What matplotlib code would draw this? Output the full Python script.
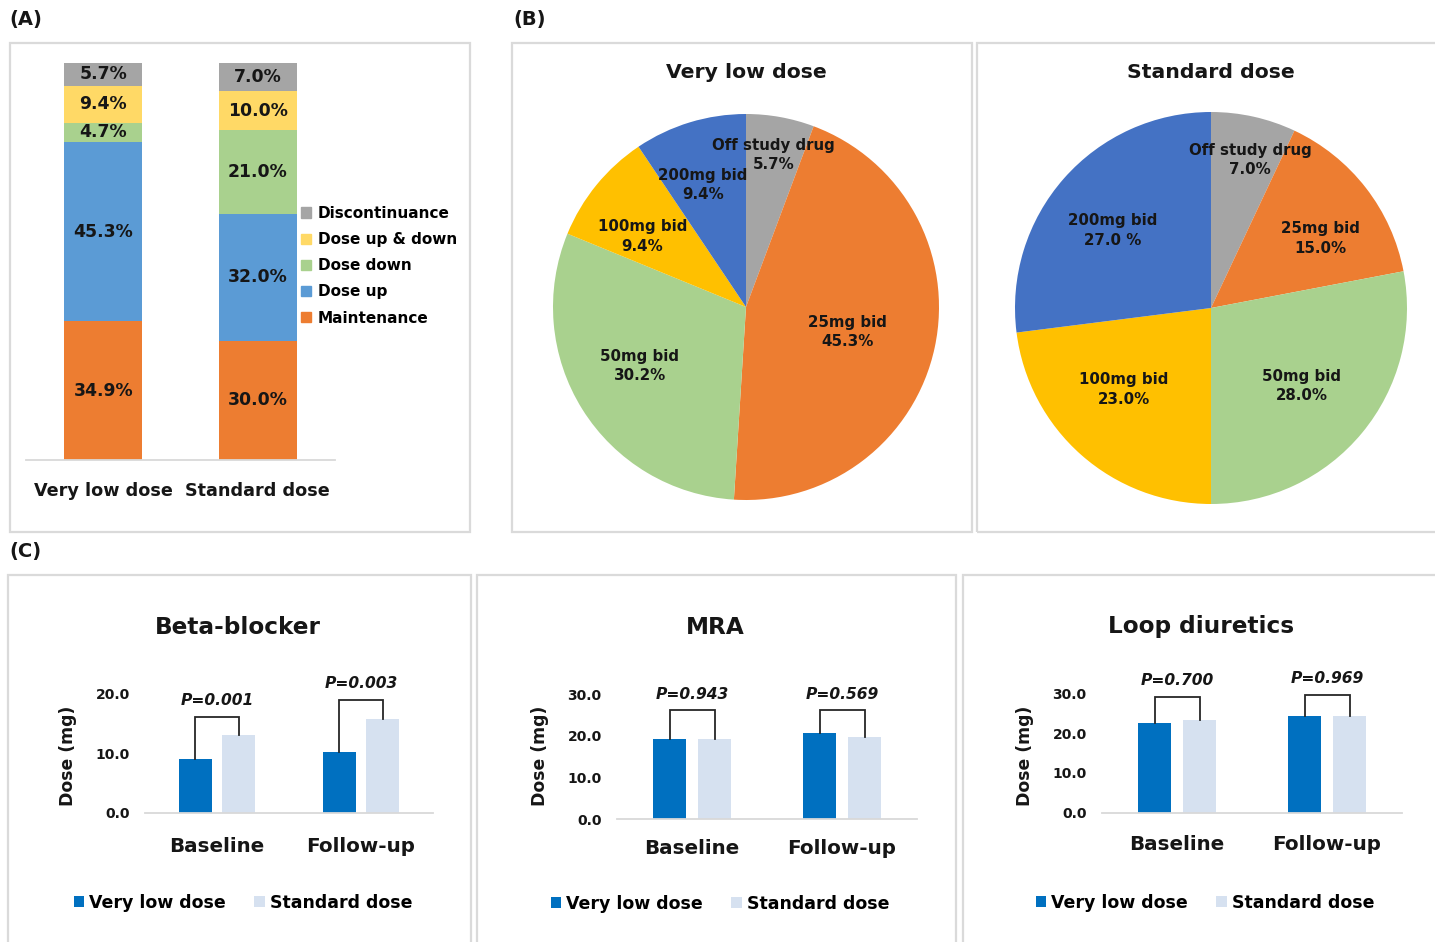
import matplotlib
matplotlib.use("Agg")
import matplotlib.pyplot as plt
from matplotlib.patches import Rectangle, Patch
import numpy as np

# ---------------- data ----------------
groups = ["Very low dose", "Standard dose"]

outcome_labels = ["Maintenance", "Dose up", "Dose down", "Dose up & down", "Discontinuance"]
outcome_vld = [34.9, 45.3, 4.7, 9.4, 5.7]
outcome_std = [30.0, 32.0, 21.0, 10.0, 7.0]

dose_labels = ["Off study drug", "25mg bid", "50mg bid", "100mg bid", "200mg bid"]
dose_vld = [5.7, 45.3, 30.2, 9.4, 9.4]
dose_std = [7.0, 15.0, 28.0, 23.0, 27.0]
dose_vld_text = ["5.7%", "45.3%", "30.2%", "9.4%", "9.4%"]
dose_std_text = ["7.0%", "15.0%", "28.0%", "23.0%", "27.0 %"]

timepoints = ["Baseline", "Follow-up"]
drugs = ["Beta-blocker", "MRA", "Loop diuretics"]
beta_vld = [9.1, 10.2]
beta_std = [13.1, 15.7]
beta_p = ["0.001", "0.003"]
mra_vld = [19.3, 20.8]
mra_std = [19.3, 19.8]
mra_p = ["0.943", "0.569"]
loop_vld = [22.4, 24.3]
loop_std = [23.4, 24.3]
loop_p = ["0.700", "0.969"]

# ---------------- style ----------------
outcome_colors = ["#ED7D31", "#5B9BD5", "#A9D18E", "#FFD966", "#A5A5A5"]
pie_colors = ["#A5A5A5", "#ED7D31", "#A9D18E", "#FFC000", "#4472C4"]
c_vld = "#0070C0"
c_std = "#D6E1F0"
txt = "#161616"
grid_gray = "#D9D9D9"

plt.rcParams["font.family"] = ["DejaVu Sans"]
plt.rcParams["font.weight"] = "bold"

W, H = 1435, 942
fig = plt.figure(figsize=(W / 100, H / 100), dpi=100)
fig.patch.set_facecolor("white")


def rect(x0, y0, x1, y1):
    return [x0 / W, 1 - y1 / H, (x1 - x0) / W, (y1 - y0) / H]


def ftext(x, y, s, **kw):
    kw.setdefault("ha", "center")
    kw.setdefault("va", "center")
    kw.setdefault("color", txt)
    kw.setdefault("fontweight", "bold")
    fig.text(x / W, 1 - y / H, s, **kw)


def frame(x0, y0, x1, y1):
    fig.patches.append(Rectangle((x0 / W, 1 - y1 / H), (x1 - x0) / W, (y1 - y0) / H,
                                 transform=fig.transFigure, fill=False,
                                 ec="#DADADA", lw=1.6, zorder=0))


# panel frames and letters
frame(10, 43, 470, 532)
frame(512, 43, 972, 532)
frame(977, 43, 1445, 532)
frame(8, 575, 471, 960)
frame(477, 575, 956, 960)
frame(963, 575, 1445, 960)
ftext(26, 20, "(A)", fontsize=14)
ftext(530, 20, "(B)", fontsize=14)
ftext(25, 552, "(C)", fontsize=14)

# ---------------- (A) stacked bars ----------------
axA = fig.add_axes(rect(26, 63, 335, 460))
xA = np.arange(len(groups))
bottoms = np.zeros(len(groups))
for i, lab in enumerate(outcome_labels):
    vals = np.array([outcome_vld[i], outcome_std[i]])
    axA.bar(xA, vals, bottom=bottoms, width=0.503, color=outcome_colors[i],
            label=lab, linewidth=0)
    for xi, v, b in zip(xA, vals, bottoms):
        axA.text(xi, b + v / 2, f"{v:.1f}%", ha="center", va="center",
                 fontsize=12.4, color=txt, fontweight="bold")
    bottoms += vals
axA.set_xlim(-0.5, 1.5)
axA.set_ylim(0, 100)
axA.set_yticks([])
axA.set_xticks([])
for s in ["top", "right", "left"]:
    axA.spines[s].set_visible(False)
axA.spines["bottom"].set_color(grid_gray)
axA.spines["bottom"].set_linewidth(1.3)
for xi, g in zip(xA, groups):
    axA.text(xi, -31 / 397, g, transform=axA.get_xaxis_transform(),
             ha="center", va="center", fontsize=12.7, color=txt, fontweight="bold")
handles = [Patch(color=c, label=l) for c, l in zip(outcome_colors, outcome_labels)][::-1]
axA.legend(handles=handles, loc="upper left", bbox_to_anchor=(301 / W, 1 - 206 / H),
           bbox_transform=fig.transFigure, frameon=False,
           handlelength=0.66, handleheight=0.66, handletextpad=0.45,
           labelspacing=0.73, borderpad=0, borderaxespad=0,
           prop={"weight": "bold", "size": 11})


# ---------------- (B) pies ----------------
def draw_pie(cx, cy, r, vals, texts, radii, nudges, title):
    ax = fig.add_axes(rect(cx - r, cy - r, cx + r, cy + r))
    wedges, _ = ax.pie(vals, colors=pie_colors, startangle=90, counterclock=False,
                       radius=1, wedgeprops=dict(linewidth=0))
    ax.set_xlim(-1, 1)
    ax.set_ylim(-1, 1)
    ax.set_aspect("equal")
    for w, lab, t, rr, d in zip(wedges, dose_labels, texts, radii, nudges):
        ang = np.deg2rad((w.theta1 + w.theta2) / 2 - d)
        ax.text(rr * np.cos(ang), rr * np.sin(ang), f"{lab}\n{t}", ha="center",
                va="center", fontsize=10.8, color=txt, fontweight="bold",
                linespacing=1.35)
    ftext(cx, 72, title, fontsize=14.7)


draw_pie(746, 307, 193, dose_vld, dose_vld_text,
         [0.80, 0.54, 0.63, 0.65, 0.67], [0, 2, 3, -5, -2.5], groups[0])
draw_pie(1211, 308, 196, dose_std, dose_std_text,
         [0.78, 0.66, 0.61, 0.61, 0.64], [2.3, 5.3, 1, 5.6, -3.2], groups[1])


# ---------------- (C) dose bars ----------------
def draw_dose(box, ytop_px, ybot_px, ymax, vld, std, pvals, bracket_y, title,
              title_xy, cat_y, leg_xy):
    x0, x1 = box
    ax = fig.add_axes(rect(x0, ytop_px, x1, ybot_px))
    x = np.arange(len(timepoints))
    off, bw = 0.15, 0.225
    ax.bar(x - off, vld, width=bw, color=c_vld, linewidth=0, label=groups[0])
    ax.bar(x + off, std, width=bw, color=c_std, linewidth=0, label=groups[1])
    ax.set_xlim(-0.5, 1.5)
    ax.set_ylim(0, ymax)
    ticks = np.arange(0, ymax + 1, 10)
    ax.set_yticks(ticks)
    ax.set_yticklabels([f"{t:.1f}" for t in ticks], fontsize=10, fontweight="bold", color=txt)
    ax.tick_params(axis="y", length=0, pad=11)
    ax.set_xticks([])
    for s in ["top", "right", "left"]:
        ax.spines[s].set_visible(False)
    ax.spines["bottom"].set_color(grid_gray)
    ax.spines["bottom"].set_linewidth(1.3)
    # significance brackets from each bar top
    for xi, a, b, p, by in zip(x, vld, std, pvals, bracket_y):
        ax.plot([xi - off, xi - off, xi + off, xi + off], [a, by, by, b],
                color="#262626", lw=1.3, clip_on=False, solid_joinstyle="miter")
        ax.annotate(f"P={p}", xy=(xi, by), xytext=(0, 11.5), textcoords="offset points",
                    ha="center", va="center", fontsize=11.2, style="italic",
                    fontweight="bold", color=txt, annotation_clip=False)
    h_px = ybot_px - ytop_px
    for xi, c in zip(x, timepoints):
        ax.text(xi, -(cat_y - ybot_px) / h_px, c, transform=ax.get_xaxis_transform(),
                ha="center", va="center", fontsize=14.3, fontweight="bold", color=txt)
    ax.text(-77 / (x1 - x0), (ybot_px - 756) / h_px, "Dose (mg)", transform=ax.transAxes,
            rotation=90, ha="center", va="center", fontsize=12.4, fontweight="bold", color=txt)
    ftext(title_xy[0], title_xy[1], title, fontsize=16.7)
    ax.legend(loc="center", bbox_to_anchor=(leg_xy[0] / W, 1 - leg_xy[1] / H),
              bbox_transform=fig.transFigure, ncol=2, frameon=False,
              handlelength=0.58, handleheight=0.58, handletextpad=0.3,
              columnspacing=1.65, borderpad=0, prop={"weight": "bold", "size": 12.5})


draw_dose((145, 433), 693.3, 813, 20, beta_vld, beta_std, beta_p, [16.1, 18.9],
          drugs[0], (238, 627), 846, (243, 903))
draw_dose((617, 917), 694.3, 819.3, 30, mra_vld, mra_std, mra_p, [26.2, 26.2],
          drugs[1], (715, 628), 848, (720, 904))
draw_dose((1102, 1402), 693.3, 812.5, 30, loop_vld, loop_std, loop_p, [29.1, 29.6],
          drugs[2], (1201, 627), 845, (1205, 903))

fig.savefig("out.png", dpi=100, facecolor="white")
